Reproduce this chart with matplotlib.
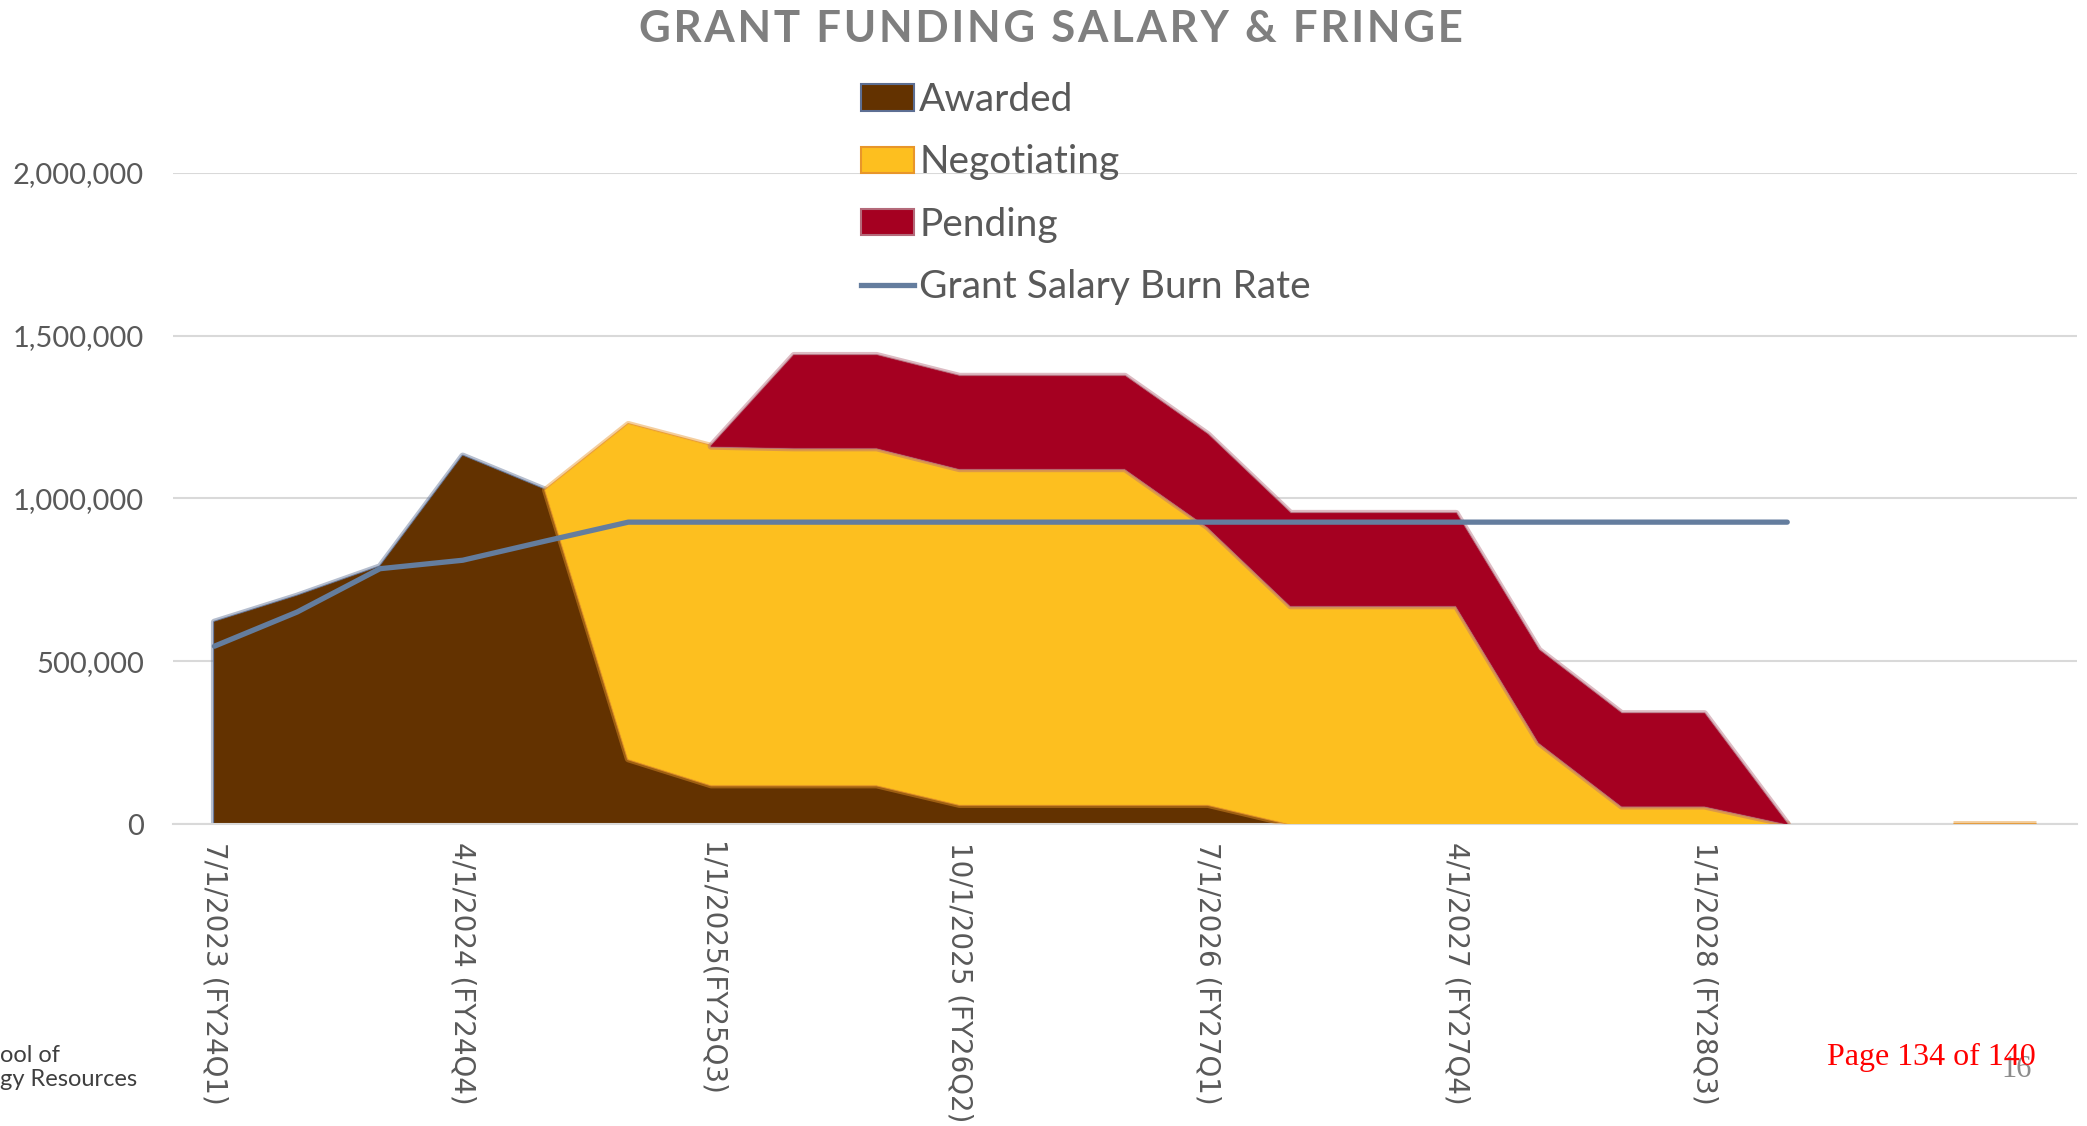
import numpy as np
import matplotlib
matplotlib.use('Agg')
import matplotlib.pyplot as plt
import matplotlib.patheffects as pe
from matplotlib.patches import Patch
from matplotlib.lines import Line2D

nan = np.nan

quarters = ["7/1/2023 (FY24Q1)", "10/1/2023 (FY24Q2)", "1/1/2024 (FY24Q3)", "4/1/2024 (FY24Q4)",
            "7/1/2024 (FY25Q1)", "10/1/2024 (FY25Q2)", "1/1/2025(FY25Q3)", "4/1/2025 (FY25Q4)",
            "7/1/2025 (FY26Q1)", "10/1/2025 (FY26Q2)", "1/1/2026 (FY26Q3)", "4/1/2026 (FY26Q4)",
            "7/1/2026 (FY27Q1)", "10/1/2026 (FY27Q2)", "1/1/2027 (FY27Q3)", "4/1/2027 (FY27Q4)",
            "7/1/2027 (FY28Q1)", "10/1/2027 (FY28Q2)", "1/1/2028 (FY28Q3)", "4/1/2028 (FY28Q4)",
            "", "", ""]

awarded = [620000, 700000, 790000, 1130000, 1025000, 200000, 120000, 120000, 120000,
           60000, 60000, 60000, 60000, 0, nan, nan, nan, nan, nan, nan, nan, nan, nan]
negotiating = [nan, nan, nan, nan, 0, 1027000, 1040000, 1035000, 1035000,
               1031000, 1031000, 1031000, 852000, 670000, 670000, 670000, 250000,
               55000, 55000, 0, nan, 0, 0]
pending = [nan, nan, nan, nan, nan, nan, 0, 284000, 284000, 284000, 284000, 284000,
           284000, 284000, 284000, 284000, 284000, 284000, 284000, 0, nan, nan, nan]
burn_rate = [546000, 651000, 784000, 810000, 869000, 927000, 927000, 927000, 927000,
             927000, 927000, 927000, 927000, 927000, 927000, 927000, 927000, 927000,
             927000, 927000, nan, nan, nan]

series_names = ["Awarded", "Negotiating", "Pending", "Grant Salary Burn Rate"]
yticks = [0, 500000, 1000000, 1500000, 2000000]
title = "GRANT FUNDING SALARY & FRINGE"

fill_colors = ["#633200", "#fdbf1f", "#a50021"]
glow_colors = ["#5d6f93", "#e8962a", "#b46a7a"]
line_color = "#647d9e"
grey = "#595959"

fig = plt.figure(figsize=(20.87, 11.26), dpi=100)
ax = fig.add_axes([0.0829, 0.2682, 0.9123, 0.5784])

x = np.arange(len(quarters))
a = np.array(awarded, dtype=float)
n = np.array(negotiating, dtype=float)
p = np.array(pending, dtype=float)
b = np.array(burn_rate, dtype=float)

base = np.zeros(len(x))
for vals, fc, gc, z in zip([a, n, p], fill_colors, glow_colors, [2, 3, 4]):
    top = base + vals
    poly = ax.fill_between(x, base, top, where=~np.isnan(vals), facecolor=fc,
                           edgecolor=fc, linewidth=0.5, zorder=z, interpolate=False)
    poly.set_path_effects([pe.Stroke(linewidth=5, foreground=gc, alpha=0.45),
                           pe.Stroke(linewidth=2, foreground=gc, alpha=0.85),
                           pe.Normal()])
    base = base + np.nan_to_num(vals)

ax.plot(x, b, color=line_color, lw=3.8, solid_capstyle='round', zorder=6)

ax.set_xlim(-0.5, len(x) - 0.5)
ax.set_ylim(0, 2000000)
ax.set_yticks(yticks)
ax.set_yticklabels([f"{v:,}" for v in yticks], fontsize=21, color=grey, family=["Lato", "DejaVu Sans"])
ax.yaxis.grid(True, color="#d9d9d9", lw=1.5, zorder=0)
ax.set_axisbelow(True)
for s in ["top", "right", "left"]:
    ax.spines[s].set_visible(False)
ax.spines["bottom"].set_color("#d9d9d9")
ax.spines["bottom"].set_linewidth(1.5)
ax.tick_params(axis='both', length=0)
ax.tick_params(axis='y', pad=21)
ticks = x[::3]
ax.set_xticks(ticks)
ax.set_xticklabels([quarters[i] for i in ticks], rotation=-90, ha='center', va='top',
                   fontsize=20, color=grey, family=["DejaVu Sans"])
ax.tick_params(axis='x', pad=13)

spaced_title = "\u200a".join(title)
fig.text(0.5037, 1 - 29 / 1126, spaced_title, ha='center', va='center',
         fontsize=31.5, fontweight='bold', color="#7f7f7f", family=["Lato", "DejaVu Sans"])

handles = [Patch(facecolor=fill_colors[0], edgecolor=glow_colors[0], lw=1.5),
           Patch(facecolor=fill_colors[1], edgecolor=glow_colors[1], lw=1.5),
           Patch(facecolor=fill_colors[2], edgecolor=glow_colors[2], lw=1.5),
           Line2D([], [], color=line_color, lw=3.8)]
leg = fig.legend(handles, series_names, loc='upper left', bbox_to_anchor=(861 / 2087, 1 - 82 / 1126),
                 frameon=False, borderpad=0, borderaxespad=0, handlelength=1.35, handleheight=0.67,
                 handletextpad=0.15, labelspacing=0.68,
                 prop={'family': ["Lato", "DejaVu Sans"], 'size': 28})
for t in leg.get_texts():
    t.set_color(grey)

fig.text(0, 1 - 1062 / 1126, "ool of", ha='left', va='baseline', fontsize=17, color="#3f3f3f",
         family=["Lato", "DejaVu Sans"])
fig.text(0, 1 - 1086 / 1126, "gy Resources", ha='left', va='baseline', fontsize=17, color="#3f3f3f",
         family=["Lato", "DejaVu Sans"])
fig.text(2032 / 2087, 1 - 1077 / 1126, "16", ha='right', va='baseline', fontsize=22, color="#8c8c8c",
         family=["Liberation Serif"], zorder=1)
fig.text(1827 / 2087, 1 - 1065 / 1126, "Page 134 of 140", ha='left', va='baseline', fontsize=23,
         color="#ff0000", family=["Liberation Serif"], zorder=2)

fig.savefig("out.png", dpi=100)
